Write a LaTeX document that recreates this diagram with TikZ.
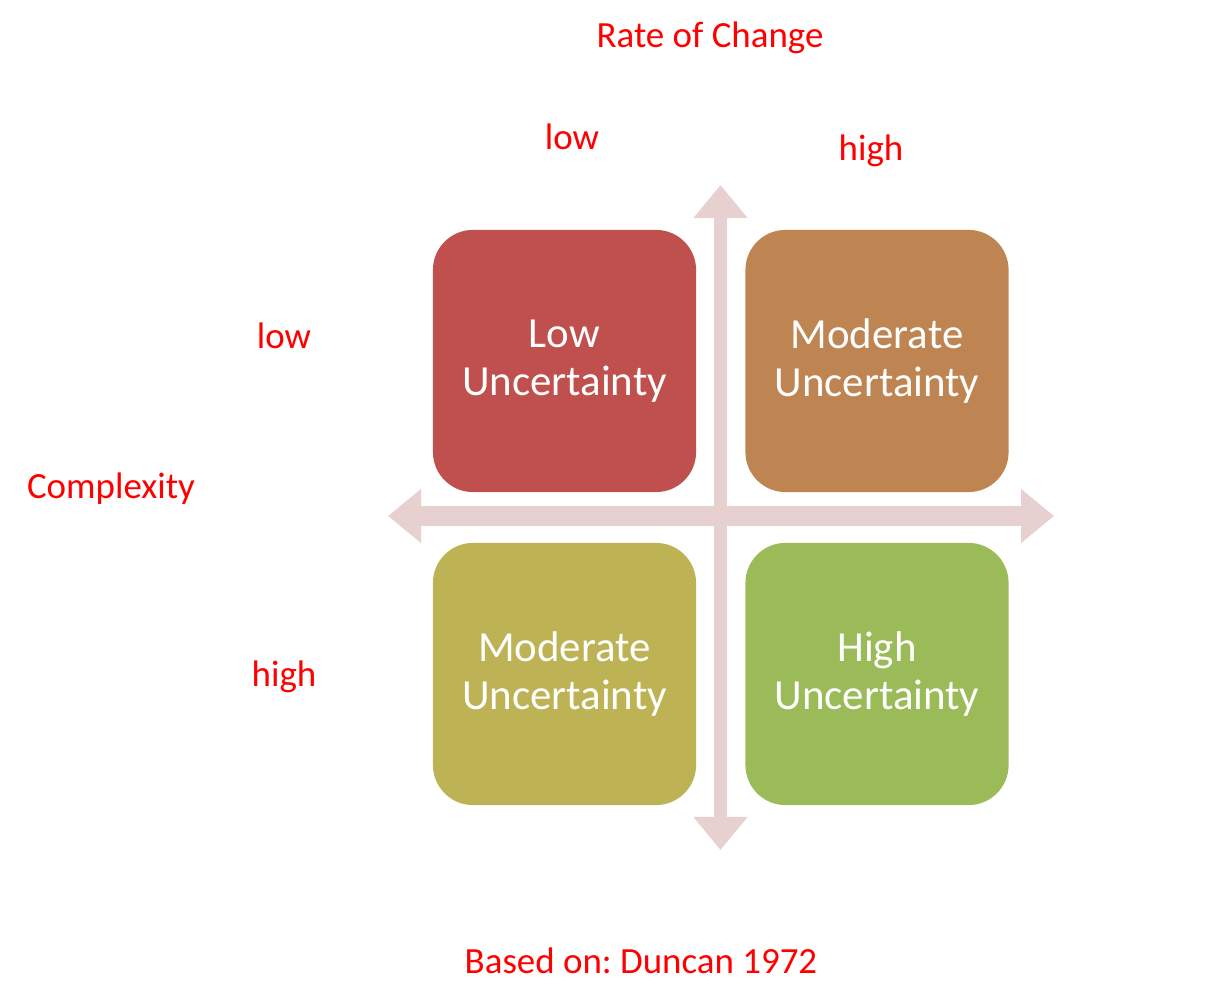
\documentclass[tikz,border=0pt]{standalone}
\usepackage{fontspec}
\setmainfont{Carlito}
\usepackage{xcolor}
\usepackage{tikz}
\usetikzlibrary{positioning,arrows.meta}
\frenchspacing
\definecolor{lowred}{RGB}{192,80,77}
\definecolor{modbrown}{RGB}{190,132,81}
\definecolor{modolive}{RGB}{189,179,85}
\definecolor{highgreen}{RGB}{155,187,89}
\definecolor{axispink}{RGB}{231,208,208}
\tikzset{quad node/.style={rounded corners=0.4cm,minimum width=2.63cm,minimum height=2.62cm,inner sep=0pt,
    text=white,align=center,font=\fontsize{12.2}{13.7}\selectfont},
  axis label/.style={text=red,anchor=base,inner sep=0pt,font=\fontsize{10.5}{12.6}\selectfont},
  axis arrow/.style={draw=axispink,{Triangle[width=0.52cm,length=0.33cm]}-{Triangle[width=0.52cm,length=0.33cm]}},}

\begin{document}
\begin{tikzpicture}[x=0.01cm,y=-0.01cm]
    \useasboundingbox (0,0) rectangle (1222,992);

    % the four quadrants
    \node[quad node,fill=lowred] (lu) at (564.5,361) {Low\\Uncertainty};
    \node[quad node,fill=modbrown] (mu1) at (877,361) {Moderate\\Uncertainty};
    \node[quad node,fill=modolive] (mu2) at (564.5,674) {Moderate\\Uncertainty};
    \node[quad node,fill=highgreen] (hu) at (877,674) {High\\Uncertainty};

    % axes
    \coordinate (top) at (720.5,185);
    \coordinate (bottom) at (720.5,850);
    \coordinate (left) at (388,516);
    \coordinate (right) at (1054,516);
    \draw[axis arrow,line width=0.19cm] (left) -- (right);
    \draw[axis arrow,line width=0.13cm] (top) -- (bottom);

    % labels
    \node[axis label] (rate) at (710,48) {Rate of Change};
    \node[axis label] (ratelow) at (572,150) {low};
    \node[axis label] (ratehigh) at (871,161) {high};
    \node[axis label] (cplx) at (111,499) {Complexity};
    \node[axis label] (cplxlow) at (284,349) {low};
    \node[axis label] (cplxhigh) at (284,686) {high};
    \node[axis label] (source) at (641,973) {Based on: Duncan 1972};
\end{tikzpicture}
\end{document}
